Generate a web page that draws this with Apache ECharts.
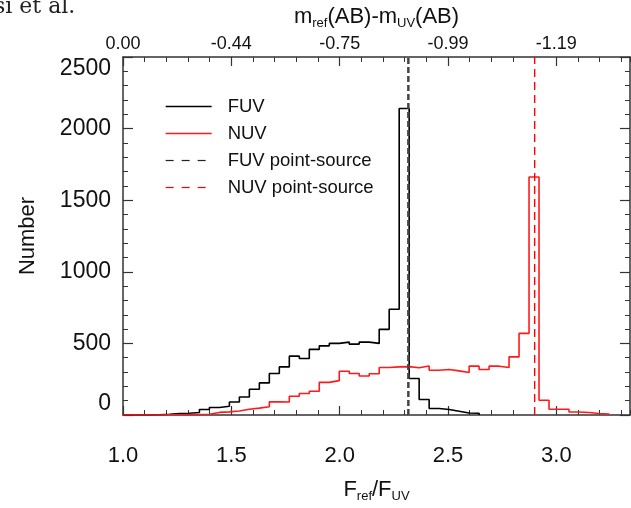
<!DOCTYPE html>
<html>
<head>
<meta charset="utf-8">
<script src="https://cdn.jsdelivr.net/npm/echarts@6/dist/echarts.min.js"></script>
<style>
html, body { margin: 0; padding: 0; background: #fff; }
#chart { width: 631px; height: 508px; }
</style>
</head>
<body>
<div id="chart"></div>
<script>
// Histogram bins along F_ref/F_UV
const binStart = 1.03;
const binWidth = 0.0461;

// Counts per bin
const fuvCounts = [0, 0, 2, 5, 10, 12, 18, 38, 52, 61,
    91, 126, 180, 224, 290, 336, 411, 395, 458, 483,
    500, 509, 495, 509, 500, 598, 738, 2140, 255, 108,
    45, 38, 26, 14, 12];
const nuvCounts = [0, 0, 0, 2, 2, 3, 4, 5, 18, 22,
    28, 40, 48, 58, 92, 91, 131, 150, 166, 228,
    240, 305, 290, 272, 288, 332, 336, 338, 330, 342,
    312, 318, 308, 297, 341, 318, 341, 332, 406, 570,
    1662, 103, 40, 40, 21, 17, 10, 7];

// Point-source ratios (vertical dashed lines)
const fuvPointSource = 2.317;
const nuvPointSource = 2.90;

// Axes
const xMin = 1.0;
const xMax = 3.34;
const xTickValues = [1.0, 1.5, 2.0, 2.5, 3.0];
const topTickLabels = ['0.00', '-0.44', '-0.75', '-0.99', '-1.19'];
const yMax = 2500;

const font = 'Liberation Sans';
const axisColor = '#333';

let chart = echarts.init(document.getElementById('chart'));

// turn bin counts into the corner points of a step outline
function histSteps(counts) {
    let pts = [[xMin, 0]];
    counts.forEach(function (c, i) {
        pts.push([binStart + i * binWidth, c]);
    });
    pts.push([binStart + counts.length * binWidth, 0]);
    return pts;
}

function tickIndex(v) {
    for (let i = 0; i < xTickValues.length; i++) {
        if (Math.abs(xTickValues[i] - v) < 1e-6) return i;
    }
    return -1;
}

function xAxisMajor(position, labelFn, name, nameGap) {
    return {
        type: 'value', position: position, min: xMin, max: xMax, interval: 0.5,
        axisLine: { show: true, onZero: false, lineStyle: { color: axisColor, width: 1.5 } },
        axisTick: { inside: true, length: 9, lineStyle: { color: axisColor, width: 1.2 } },
        splitLine: { show: false },
        axisLabel: {
            margin: position === 'bottom' ? 30 : 4,
            fontFamily: font, fontSize: position === 'bottom' ? 22 : 18, color: '#111',
            showMaxLabel: false,
            formatter: labelFn
        },
        name: name, nameLocation: 'middle', nameGap: nameGap,
        nameTextStyle: {
            fontFamily: font, color: '#111',
            rich: {
                n: { fontFamily: font, fontSize: 22, lineHeight: 26, color: '#111' },
                s: { fontFamily: font, fontSize: 13, lineHeight: 10, verticalAlign: 'bottom', color: '#111' }
            }
        }
    };
}

function xAxisMinor(position) {
    return {
        type: 'value', position: position, min: xMin, max: xMax, interval: 0.1,
        axisLine: { show: false, onZero: false },
        axisTick: { inside: true, length: 5, lineStyle: { color: axisColor, width: 1 } },
        axisLabel: { show: false },
        splitLine: { show: false }
    };
}

function yAxisDef(position, showLabels) {
    return {
        type: 'value', position: position, min: 0, max: yMax, interval: 500,
        axisLine: { show: true, onZero: false, lineStyle: { color: axisColor, width: 1.5 } },
        axisTick: { inside: true, length: 10, lineStyle: { color: axisColor, width: 1.2 } },
        minorTick: { show: true, splitNumber: 5, length: 5, lineStyle: { color: axisColor, width: 1 } },
        splitLine: { show: false },
        axisLabel: {
            show: showLabels, margin: 12,
            fontFamily: font, fontSize: 23, color: '#111',
            verticalAlignMaxLabel: 'top', verticalAlignMinLabel: 'bottom',
            formatter: function (v) { return String(v); }
        },
        name: showLabels ? 'Number' : '',
        nameLocation: 'middle', nameGap: 84,
        nameTextStyle: { fontFamily: font, fontSize: 22, color: '#111' }
    };
}

let option = {
    backgroundColor: '#fff',
    animation: false,
    grid: { left: 123, right: 1, top: 57, bottom: 93, outerBoundsMode: 'none' },
    xAxis: [
        xAxisMajor('bottom', function (v) {
            let i = tickIndex(v);
            return i < 0 ? '' : v.toFixed(1);
        }, '{n|F}{s|ref}{n|/F}{s|UV}', 62),
        xAxisMajor('top', function (v) {
            let i = tickIndex(v);
            return i < 0 ? '' : topTickLabels[i];
        }, '{n|m}{s|ref}{n|(AB)-m}{s|UV}{n|(AB)}', 25),
        xAxisMinor('bottom'),
        xAxisMinor('top')
    ],
    yAxis: [
        yAxisDef('left', true),
        yAxisDef('right', false)
    ],
    legend: {
        orient: 'vertical', left: 160, top: 92,
        itemWidth: 46, itemHeight: 14, itemGap: 8,
        itemStyle: { opacity: 0 },
        textStyle: { fontFamily: font, fontSize: 18.5, color: '#111', padding: [0, 0, 0, 11] },
        data: [
            { name: 'FUV', lineStyle: { width: 1.3 } },
            { name: 'NUV', lineStyle: { width: 1.3 } },
            { name: 'FUV point-source', lineStyle: { type: [8, 8], width: 1.2, color: '#222' } },
            { name: 'NUV point-source', lineStyle: { type: [8, 8], width: 1.2, color: '#ff0000' } }
        ]
    },
    graphic: [{
        type: 'text', left: -6, top: -4,
        style: { text: 'si et al.', fontFamily: 'DejaVu Serif', fontSize: 22, fill: '#222' }
    }],
    series: [
        {
            name: 'FUV', type: 'line', step: 'end', symbol: 'none',
            data: histSteps(fuvCounts),
            lineStyle: { color: '#000', width: 1.6 },
            itemStyle: { color: '#000' }
        },
        {
            name: 'NUV', type: 'line', step: 'end', symbol: 'none',
            data: histSteps(nuvCounts),
            lineStyle: { color: '#ff1a1a', width: 1.6 },
            itemStyle: { color: '#ff1a1a' }
        },
        {
            name: 'FUV point-source', type: 'line', symbol: 'none',
            data: [[fuvPointSource, 0], [fuvPointSource, yMax]],
            lineStyle: { color: '#444', width: 2.5, type: [6, 3] },
            itemStyle: { color: '#444' }
        },
        {
            name: 'NUV point-source', type: 'line', symbol: 'none',
            data: [[nuvPointSource, 0], [nuvPointSource, yMax]],
            lineStyle: { color: '#ff0000', width: 1.4, type: [8, 5] },
            itemStyle: { color: '#ff0000' }
        }
    ]
};

chart.setOption(option);
</script>
</body>
</html>
